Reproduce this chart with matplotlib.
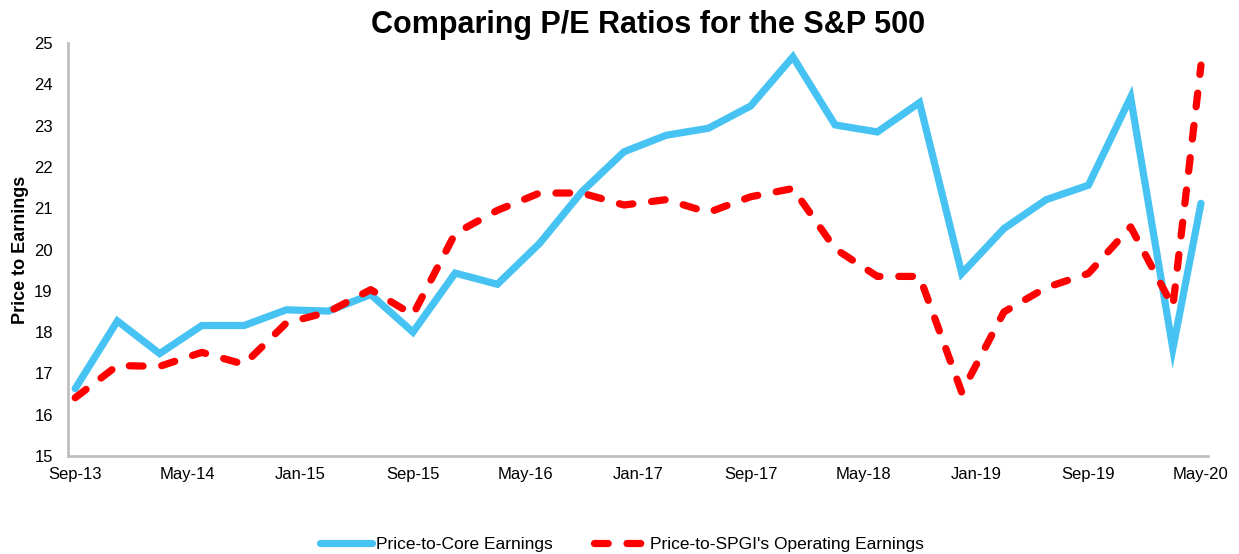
import pandas as pd
import numpy as np
import matplotlib.pyplot as plt

# quarterly P/E readings for the S&P 500, last point is May 2020
dates = ["2013-09", "2013-12", "2014-03", "2014-06", "2014-09", "2014-12",
         "2015-03", "2015-06", "2015-09", "2015-12", "2016-03", "2016-06",
         "2016-09", "2016-12", "2017-03", "2017-06", "2017-09", "2017-12",
         "2018-03", "2018-06", "2018-09", "2018-12", "2019-03", "2019-06",
         "2019-09", "2019-12", "2020-03", "2020-05"]
core_pe = [16.63, 18.27, 17.48, 18.16, 18.16, 18.54, 18.51, 18.91, 18.0, 19.43,
           19.16, 20.15, 21.40, 22.37, 22.77, 22.94, 23.48, 24.67, 23.02, 22.85,
           23.56, 19.42, 20.51, 21.21, 21.56, 23.69, 17.60, 21.12]
spgi_pe = [16.41, 17.19, 17.17, 17.51, 17.22, 18.22, 18.49, 19.03, 18.42, 20.39,
           20.95, 21.37, 21.37, 21.08, 21.21, 20.90, 21.28, 21.48, 20.02, 19.35,
           19.35, 16.54, 18.49, 19.08, 19.42, 20.55, 18.62, 24.47]
series_names = ["Price-to-Core Earnings", "Price-to-SPGI's Operating Earnings"]
tick_months = ["2013-09", "2014-05", "2015-01", "2015-09", "2016-05", "2017-01",
               "2017-09", "2018-05", "2019-01", "2019-09", "2020-05"]

plt.rcParams['font.family'] = ['Liberation Sans', 'DejaVu Sans']

# month offset from the first date (Excel style date axis, one slot per month)
start = pd.Period(dates[0], freq="M")
x = np.array([(pd.Period(d, freq="M") - start).n for d in dates])
ticks = [(pd.Period(t, freq="M") - start).n for t in tick_months]
tick_labels = [pd.Period(t, freq="M").strftime("%b-%y") for t in tick_months]

fig = plt.figure(figsize=(12.39, 5.54), dpi=100)
ax = fig.add_axes([0.055, 0.177, 0.92, 0.745])

ax.plot(x, core_pe, color="#46C3F2", linewidth=5.2, solid_joinstyle="miter",
        solid_capstyle="round", label=series_names[0])
ax.plot(x, spgi_pe, color="#FF0000", linewidth=5.2, dashes=(1.9, 2.6),
        dash_capstyle="round", label=series_names[1])

ax.set_xlim(-0.5, 80.5)
ax.set_ylim(15, 25)
ax.set_yticks(range(15, 26))
ax.set_xticks(ticks)
ax.set_xticklabels(tick_labels)
ax.tick_params(axis="both", length=0, labelsize=12)
ax.tick_params(axis="y", pad=11)
ax.tick_params(axis="x", pad=8)

for side in ["top", "right"]:
    ax.spines[side].set_visible(False)
for side in ["left", "bottom"]:
    ax.spines[side].set_color("#BFBFBF")
    ax.spines[side].set_linewidth(2)

ax.set_ylabel("Price to Earnings", fontsize=13, fontweight="bold", labelpad=4)
fig.suptitle("Comparing P/E Ratios for the S&P 500", fontsize=22,
             fontweight="bold", x=0.523, y=0.982)

fig.legend(loc="center", bbox_to_anchor=(0.502, 0.018), ncol=2, frameon=False,
           fontsize=12.5, handlelength=3.0, handletextpad=0.2, columnspacing=2.4)

plt.savefig("out.png", dpi=100)
